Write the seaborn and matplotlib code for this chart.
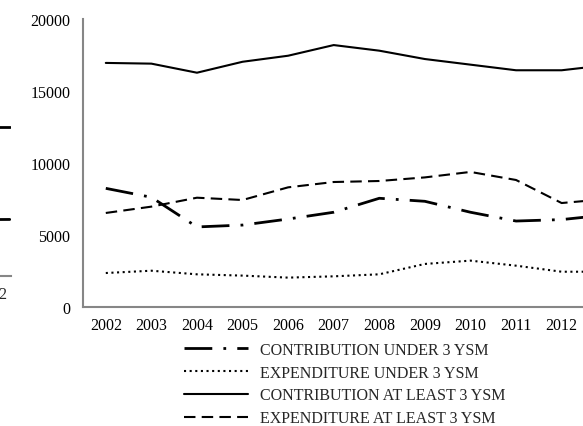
import numpy as np
import pandas as pd
import matplotlib
matplotlib.use("Agg")
import matplotlib.pyplot as plt
import seaborn as sns

# ------------------------------------------------------------------
# data (2013 is cut off at the right edge)
# ------------------------------------------------------------------
years = ["2002", "2003", "2004", "2005", "2006", "2007",
         "2008", "2009", "2010", "2011", "2012", "2013"]

contrib_under3 = [8240, 7620, 5560, 5690, 6110, 6580, 7550, 7340, 6580, 5970, 6070, 6400]
expend_under3 = [2360, 2520, 2270, 2180, 2040, 2130, 2270, 2990, 3220, 2870, 2450, 2450]
contrib_least3 = [16950, 16900, 16270, 17030, 17450, 18190, 17800, 17220, 16830, 16440, 16440, 16800]
expend_least3 = [6530, 6970, 7590, 7430, 8310, 8680, 8750, 9000, 9380, 8820, 7220, 7500]

labels = ["CONTRIBUTION UNDER 3 YSM", "EXPENDITURE UNDER 3 YSM",
          "CONTRIBUTION AT LEAST 3 YSM", "EXPENDITURE AT LEAST 3 YSM"]

# tail of the neighbouring chart that shows at the left edge
prev_years = ["2011", "2012", "2013"]
prev_upper = [11600, 11600, 11600]
prev_lower = [4300, 4350, 4400]

yticks = [0, 5000, 10000, 15000, 20000]

# ------------------------------------------------------------------
sns.set_style("white")
plt.rcParams["font.family"] = ["Liberation Serif", "DejaVu Serif"]
FS = 11.5
plt.rcParams["font.size"] = FS

AXIS_GREY = "#868686"

fig = plt.figure(figsize=(5.83, 4.27), dpi=100)

# main panel runs off the right side of the picture
ax = fig.add_axes([83 / 583, 119 / 427, 547 / 583, 288 / 427])
x = np.arange(len(years))

styles = [
    dict(lw=2.0, linestyle=(0, (10, 4, 1, 4))),
    dict(lw=1.5, linestyle=(0, (1, 1.7))),
    dict(lw=1.5, linestyle="-"),
    dict(lw=1.5, linestyle=(0, (5.5, 3))),
]
series = [contrib_under3, expend_under3, contrib_least3, expend_least3]

for vals, lab, st in zip(series, labels, styles):
    sns.lineplot(x=x, y=vals, ax=ax, color="black", label=lab, legend=False, **st)

ax.set_xlim(-0.5, len(years) - 0.5)
ax.set_ylim(0, 20000)
ax.set_yticks(yticks)
ax.set_yticklabels([str(v) for v in yticks])
ax.set_xticks(x[:-1])  # 2013 label falls outside the picture
ax.set_xticklabels(years[:-1])
ax.set_xticks(np.arange(len(years) + 1) - 0.5, minor=True)
ax.tick_params(axis="x", which="major", length=0, pad=7)
ax.tick_params(axis="x", which="minor", length=4, width=1, color=AXIS_GREY, direction="out")
ax.tick_params(axis="y", which="major", length=4, width=1, color=AXIS_GREY, direction="out", pad=5)
ax.tick_params(labelsize=FS, labelcolor="black")
for side in ["top", "right"]:
    ax.spines[side].set_visible(False)
for side in ["left", "bottom"]:
    ax.spines[side].set_color(AXIS_GREY)
    ax.spines[side].set_linewidth(1.5)
ax.set_xlabel("")
ax.set_ylabel("")

handles = ax.get_lines()[:4]
fig.legend(handles, labels, loc="upper left",
           bbox_to_anchor=(184 / 583, 84 / 427), bbox_transform=fig.transFigure,
           frameon=False, borderpad=0, borderaxespad=0, fontsize=FS,
           handlelength=4.0, handletextpad=0.75, labelspacing=0.42)

# neighbouring panel, mostly outside the picture
ax0 = fig.add_axes([-300 / 583, 150 / 427, 311 / 583, 257 / 427])
px = np.arange(len(prev_years))
sns.lineplot(x=px, y=prev_upper, ax=ax0, color="black", lw=2.0, legend=False)
sns.lineplot(x=px, y=prev_lower, ax=ax0, color="black", lw=2.0, legend=False)
ax0.set_xlim(-0.5, 2.01)
ax0.set_ylim(0, 20000)
ax0.set_xticks([1.85])
ax0.set_xticklabels(["2012"])
ax0.set_yticks([])
ax0.tick_params(axis="x", length=0, pad=7, labelsize=FS)
for side in ["top", "right", "left"]:
    ax0.spines[side].set_visible(False)
ax0.spines["bottom"].set_color(AXIS_GREY)
ax0.spines["bottom"].set_linewidth(1.5)

fig.savefig("out.png", dpi=100, facecolor="white")
